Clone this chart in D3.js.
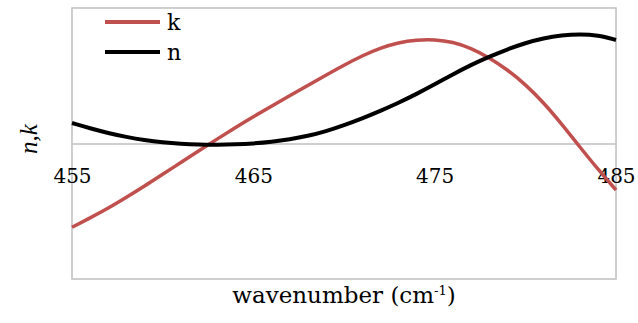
<!DOCTYPE html>
<html>
<head>
<meta charset="utf-8">
<script src="https://cdn.jsdelivr.net/npm/d3@7"></script>
<style>
  body { margin: 0; background: #fff; }
  svg { display: block; }
</style>
</head>
<body>
<div id="chart"></div>
<script>
// Data (arbitrary units for n and k)
const wavenumber = d3.range(455, 486);
const kValues = [-0.618, -0.549, -0.478, -0.397, -0.315, -0.227, -0.141, -0.054, 0.033, 0.117,
  0.198, 0.276, 0.352, 0.428, 0.504, 0.578, 0.648, 0.705, 0.745, 0.765,
  0.768, 0.750, 0.705, 0.635, 0.546, 0.437, 0.303, 0.145, -0.025, -0.190, -0.343];
const nValues = [0.151, 0.112, 0.077, 0.048, 0.025, 0.008, -0.003, -0.009, -0.010, -0.007,
  0.000, 0.012, 0.030, 0.055, 0.090, 0.135, 0.185, 0.240, 0.300, 0.365,
  0.436, 0.510, 0.580, 0.640, 0.695, 0.742, 0.777, 0.799, 0.808, 0.800, 0.764];
const xTicks = [455, 465, 475, 485];
const seriesNames = ['k', 'n'];
const seriesColors = ['#C0504D', '#000000'];

// Base positioning
const W = 638, H = 323;
const margin = { top: 8, right: 22, bottom: 44, left: 72 };
const width = W - margin.left - margin.right,
  height = H - margin.top - margin.bottom;

const svg = d3.select('#chart')
  .append('svg')
  .attr('width', W)
  .attr('height', H);

const g = svg.append('g')
  .attr('transform', 'translate(' + margin.left + ',' + margin.top + ')');

const x = d3.scaleLinear()
  .domain([455, 485])
  .range([0, width]);
const y = d3.scaleLinear()
  .domain([-1, 1])
  .range([height, 0]);

// plot frame
g.append('rect')
  .attr('width', width)
  .attr('height', height)
  .attr('fill', 'none')
  .attr('stroke', '#BFBFBF')
  .attr('stroke-width', 1.5);

// x axis sits on zero, labels only
const xAxis = g.append('g')
  .attr('transform', 'translate(0,' + y(0) + ')')
  .call(d3.axisBottom(x).tickValues(xTicks).tickSize(0).tickPadding(0));
xAxis.select('.domain')
  .attr('stroke', '#BFBFBF')
  .attr('stroke-width', 1.5);
xAxis.selectAll('text')
  .attr('dy', null)
  .attr('y', 39)
  .attr('fill', '#000')
  .style('font-family', 'DejaVu Serif')
  .style('font-size', '20px');

// lines (basis smooths small reading noise)
const series = [kValues, nValues];
const line = d3.line()
  .x((d, i) => x(wavenumber[i]))
  .y(d => y(d))
  .curve(d3.curveBasis);

g.selectAll('.series')
  .data(series)
  .enter()
  .append('path')
  .attr('class', 'series')
  .attr('fill', 'none')
  .attr('stroke', (d, i) => seriesColors[i])
  .attr('stroke-width', (d, i) => i === 0 ? 3.5 : 4)
  .attr('d', d => line(d));

// axis titles
svg.append('text')
  .attr('x', margin.left + width / 2)
  .attr('y', 303)
  .attr('text-anchor', 'middle')
  .style('font-family', 'DejaVu Serif')
  .style('font-size', '23px')
  .call(t => {
    t.append('tspan').text('wavenumber (cm');
    t.append('tspan').attr('dy', -8).style('font-size', '13px').text('-1');
    t.append('tspan').attr('dy', 8).text(')');
  });

svg.append('text')
  .attr('transform', 'translate(37,139) rotate(-90)')
  .attr('text-anchor', 'middle')
  .style('font-family', 'Liberation Serif')
  .style('font-style', 'italic')
  .style('font-size', '25px')
  .text('n,k');

// legend
const legend = svg.selectAll('g.legend')
  .data(seriesNames)
  .enter()
  .append('g')
  .attr('class', 'legend')
  .attr('transform', (d, i) => 'translate(105,' + (22 + i * 30) + ')');

legend.append('line')
  .attr('x1', 0)
  .attr('x2', 55)
  .attr('stroke', (d, i) => seriesColors[i])
  .attr('stroke-width', 4);

legend.append('text')
  .attr('x', 62)
  .attr('y', 8)
  .style('font-family', 'DejaVu Serif')
  .style('font-size', '22px')
  .text(d => d);
</script>
</body>
</html>
